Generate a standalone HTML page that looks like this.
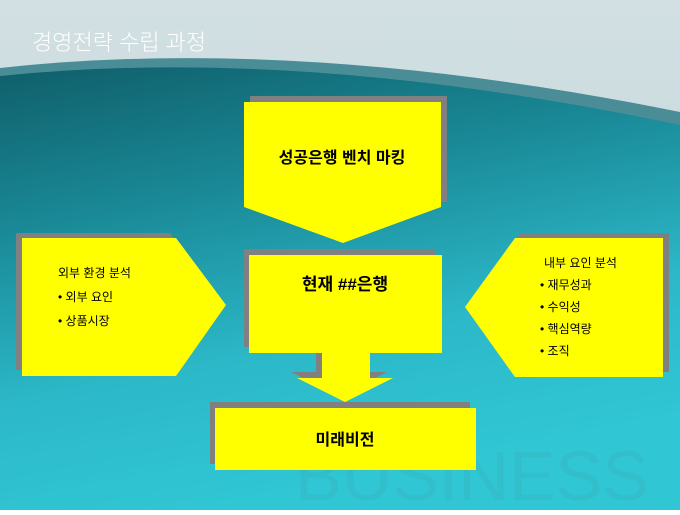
<!DOCTYPE html>
<html><head><meta charset="utf-8"><style>
body{margin:0;width:680px;height:510px;overflow:hidden;font-family:"Liberation Sans","Noto Sans CJK KR",sans-serif}
</style></head><body>
<svg width="680" height="510" xmlns="http://www.w3.org/2000/svg">
<defs>
<linearGradient id="top" x1="0" y1="0" x2="0" y2="1"><stop offset="0" stop-color="#d2e0e3"/><stop offset="1" stop-color="#b9cfd4"/></linearGradient>
<linearGradient id="bg" x1="0" y1="0" x2="0.3" y2="1"><stop offset="0" stop-color="#0f5f6a"/><stop offset="0.35" stop-color="#1a8a98"/><stop offset="0.7" stop-color="#2cb8c8"/><stop offset="1" stop-color="#30c6d4"/></linearGradient>
</defs>
<rect width="680" height="510" fill="url(#top)"/>
<path d="M0,68 Q300,35 680,112 L680,510 L0,510 Z" fill="#4a8d97"/>
<path d="M0,76 Q300,45 680,125 L680,510 L0,510 Z" fill="url(#bg)"/>
<text x="295" y="500" font-size="70" fill="#3aa8b4" opacity="0.25" font-family="Liberation Sans">BUSINESS</text>
<text x="32" y="50" font-size="22" fill="#fff" font-weight="300">경영전략 수립 과정</text>
<polygon points="250,96 447,96 447,202 250,202" fill="#808080"/>
<polygon points="244,102 441,102 441,207 343,243 244,207" fill="#ffff00"/>
<text x="342" y="163" font-size="16" font-weight="bold" text-anchor="middle">성공은행 벤치 마킹</text>
<polygon points="16,233 170,233 220,300 170,370 16,370" fill="#808080"/>
<polygon points="22,238 176,238 226,305 176,376 22,376" fill="#ffff00"/>
<text x="58" y="277" font-size="12">외부 환경 분석</text>
<text x="58" y="301" font-size="12">• 외부 요인</text>
<text x="58" y="325" font-size="12">• 상품시장</text>
<polygon points="520,233 669,233 669,372 520,372 470,302" fill="#808080"/>
<polygon points="515,238 663,238 663,377 515,377 465,307" fill="#ffff00"/>
<text x="544" y="267" font-size="12">내부 요인 분석</text>
<text x="540" y="289" font-size="12">• 재무성과</text>
<text x="540" y="311" font-size="12">• 수익성</text>
<text x="540" y="333" font-size="12">• 핵심역량</text>
<text x="540" y="355" font-size="12">• 조직</text>
<rect x="244" y="249" width="192" height="98" fill="#808080"/>
<polygon points="316,347 364,347 364,372 387,372 339,396 291,372 316,372" fill="#808080"/>
<rect x="249" y="255" width="193" height="98" fill="#ffff00"/>
<polygon points="322,353 370,353 370,378 393,378 345,402 297,378 322,378" fill="#ffff00"/>
<text x="345" y="290" font-size="17" font-weight="bold" text-anchor="middle">현재 ##은행</text>
<rect x="210" y="402" width="260" height="62" fill="#808080"/>
<rect x="215" y="408" width="261" height="62" fill="#ffff00"/>
<text x="345" y="445" font-size="16" font-weight="bold" text-anchor="middle">미래비전</text>
</svg>
</body></html>
